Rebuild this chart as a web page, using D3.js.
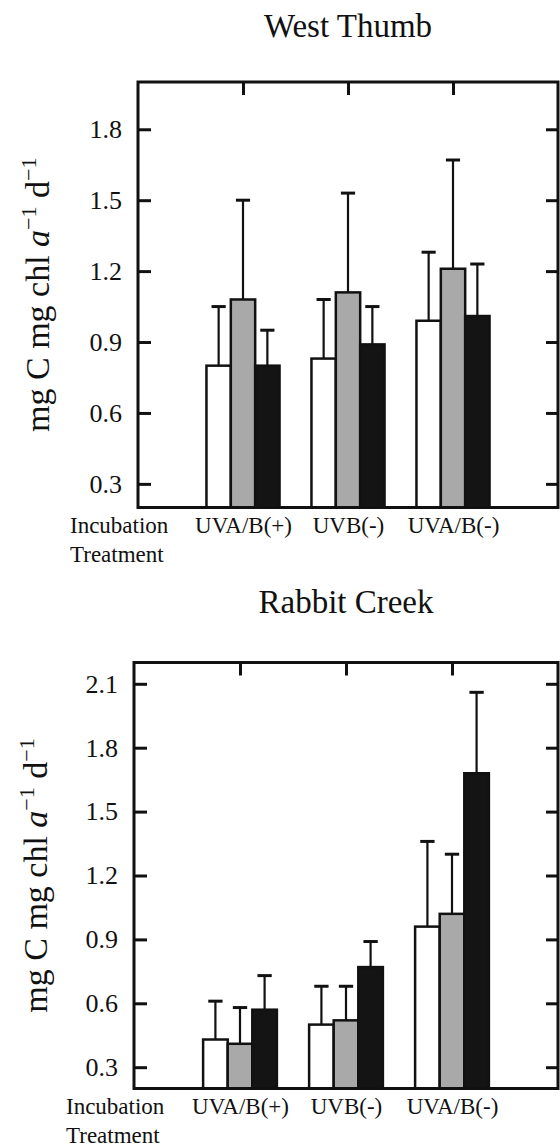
<!DOCTYPE html>
<html>
<head>
<meta charset="utf-8">
<script src="https://cdn.jsdelivr.net/npm/d3@7"></script>
<style>
  html, body { margin: 0; padding: 0; background: #fff; }
  svg { display: block; }
  svg text { font-family: "Liberation Serif", "Times New Roman", serif; fill: #111; }
</style>
</head>
<body>
<svg id="chart" width="560" height="1146"></svg>
<script>
// ---------- data ----------
const categories = ["UVA/B(+)", "UVB(-)", "UVA/B(-)"];
const seriesNames = ["open", "grey", "solid"];
const seriesFills = ["#ffffff", "#a9a9a9", "#141414"];

const panelTitles = ["West Thumb", "Rabbit Creek"];

// West Thumb: means and upper error (SD) per series, per category
const westOpen  = [0.80, 0.83, 0.99];
const westGrey  = [1.08, 1.11, 1.21];
const westSolid = [0.80, 0.89, 1.01];
const westOpenSD  = [0.25, 0.25, 0.29];
const westGreySD  = [0.42, 0.42, 0.46];
const westSolidSD = [0.15, 0.16, 0.22];

// Rabbit Creek
const rabbitOpen  = [0.43, 0.50, 0.96];
const rabbitGrey  = [0.41, 0.52, 1.02];
const rabbitSolid = [0.57, 0.77, 1.68];
const rabbitOpenSD  = [0.18, 0.18, 0.40];
const rabbitGreySD  = [0.17, 0.16, 0.28];
const rabbitSolidSD = [0.16, 0.12, 0.38];

const westTicks   = [0.3, 0.6, 0.9, 1.2, 1.5, 1.8];
const rabbitTicks = [0.3, 0.6, 0.9, 1.2, 1.5, 1.8, 2.1];
const westDomain   = [0.2, 2.0];
const rabbitDomain = [0.2, 2.2];

const xLabelLines = ["Incubation", "Treatment"];

// ---------- drawing ----------
const FONT = "'Liberation Serif', 'Times New Roman', serif";
const svg = d3.select("#chart");

function buildRows(means, sds) {
  const rows = [];
  categories.forEach((c, ci) => {
    seriesNames.forEach((s, si) => {
      rows.push({cat: ci, series: si, mean: means[si][ci], sd: sds[si][ci]});
    });
  });
  return rows;
}

function drawPanel(cfg) {
  const g = svg.append("g").attr("font-family", FONT);
  const x = d3.scaleLinear().domain([0, 4]).range([cfg.left, cfg.right]);
  const y = d3.scaleLinear().domain(cfg.domain).range([cfg.bottom, cfg.top]);
  const bw = 0.232;               // bar width in category units
  const capW = 0.135;             // error cap width in category units
  const rows = buildRows(cfg.means, cfg.sds);
  const cx = d => x(d.cat + 1 + (d.series - 1) * bw);

  // title
  g.append("text")
    .attr("x", (cfg.left + cfg.right) / 2)
    .attr("y", cfg.titleY)
    .attr("text-anchor", "middle")
    .style("font-size", "33px")
    .text(cfg.title);

  // error bars (drawn first so the bars' outlines sit on top)
  const eb = g.append("g");
  eb.selectAll("line.v").data(rows).join("line")
    .attr("x1", cx).attr("x2", cx)
    .attr("y1", d => y(d.mean)).attr("y2", d => y(d.mean + d.sd))
    .attr("stroke", "#111").attr("stroke-width", 2.2);
  eb.selectAll("line.c").data(rows).join("line")
    .attr("x1", d => x(d.cat + 1 + (d.series - 1) * bw - capW / 2))
    .attr("x2", d => x(d.cat + 1 + (d.series - 1) * bw + capW / 2))
    .attr("y1", d => y(d.mean + d.sd)).attr("y2", d => y(d.mean + d.sd))
    .attr("stroke", "#111").attr("stroke-width", 3);

  // bars
  g.append("g").selectAll("rect").data(rows).join("rect")
    .attr("x", d => x(d.cat + 1 + (d.series - 1.5) * bw))
    .attr("width", x(bw) - x(0))
    .attr("y", d => y(d.mean))
    .attr("height", d => y(cfg.domain[0]) - y(d.mean))
    .attr("fill", d => seriesFills[d.series])
    .attr("stroke", "#111")
    .attr("stroke-width", 2.5);

  // left axis (inward ticks, labels outside)
  const left = g.append("g").attr("transform", `translate(${cfg.left},0)`)
    .call(d3.axisLeft(y).tickValues(cfg.ticks).tickSize(-13).tickPadding(16)
      .tickFormat(d3.format(".1f")));
  left.attr("font-family", FONT).attr("font-size", 26);
  left.select(".domain").remove();
  left.selectAll(".tick line").attr("stroke", "#111").attr("stroke-width", 3);
  left.selectAll(".tick text")
    .style("font-size", "26px").style("font-family", FONT)
    .attr("fill", "#111");

  // right axis ticks (inward, no labels)
  const right = g.append("g").attr("transform", `translate(${cfg.right},0)`)
    .call(d3.axisRight(y).tickValues(cfg.ticks).tickSize(-12).tickFormat(""));
  right.select(".domain").remove();
  right.selectAll(".tick line").attr("stroke", "#111").attr("stroke-width", 3);

  // top axis ticks at category centres (inward)
  const topAx = g.append("g").attr("transform", `translate(0,${cfg.top})`)
    .call(d3.axisTop(x).tickValues([1, 2, 3]).tickSize(-13).tickFormat(""));
  topAx.select(".domain").remove();
  topAx.selectAll(".tick line").attr("stroke", "#111").attr("stroke-width", 3);

  // bottom category labels
  const bot = g.append("g").attr("transform", `translate(0,${cfg.bottom})`)
    .call(d3.axisBottom(x).tickValues([1, 2, 3]).tickSize(0).tickPadding(9)
      .tickFormat(d => categories[d - 1]));
  bot.attr("font-family", FONT).attr("font-size", 23);
  bot.select(".domain").remove();
  bot.selectAll(".tick text")
    .style("font-size", "23px").style("font-family", FONT)
    .attr("fill", "#111");

  // frame
  g.append("rect")
    .attr("x", cfg.left).attr("y", cfg.top)
    .attr("width", cfg.right - cfg.left).attr("height", cfg.bottom - cfg.top)
    .attr("fill", "none").attr("stroke", "#111").attr("stroke-width", 3);

  // "Incubation / Treatment"
  xLabelLines.forEach((t, i) => {
    g.append("text")
      .attr("x", cfg.left - 68)
      .attr("y", cfg.bottom + 25 + i * 29)
      .style("font-size", "23px")
      .text(t);
  });

  // y axis label
  const yl = g.append("text")
    .attr("transform", `translate(${cfg.ylabX},${(cfg.top + cfg.bottom) / 2}) rotate(-90)`)
    .attr("text-anchor", "middle")
    .style("font-size", "34px");
  yl.append("tspan").text("mg C mg chl ");
  yl.append("tspan").style("font-style", "italic").text("a");
  yl.append("tspan").attr("dy", -13).style("font-size", "22px").text("\u22121");
  yl.append("tspan").attr("dy", 13).text(" d");
  yl.append("tspan").attr("dy", -13).style("font-size", "22px").text("\u22121");
}

drawPanel({
  title: panelTitles[0], titleY: 37,
  left: 138, right: 558, top: 82, bottom: 507.5,
  domain: westDomain, ticks: westTicks,
  means: [westOpen, westGrey, westSolid],
  sds: [westOpenSD, westGreySD, westSolidSD],
  ylabX: 49
});

drawPanel({
  title: panelTitles[1], titleY: 613,
  left: 134, right: 558, top: 662.5, bottom: 1088.5,
  domain: rabbitDomain, ticks: rabbitTicks,
  means: [rabbitOpen, rabbitGrey, rabbitSolid],
  sds: [rabbitOpenSD, rabbitGreySD, rabbitSolidSD],
  ylabX: 47
});
</script>
</body>
</html>
